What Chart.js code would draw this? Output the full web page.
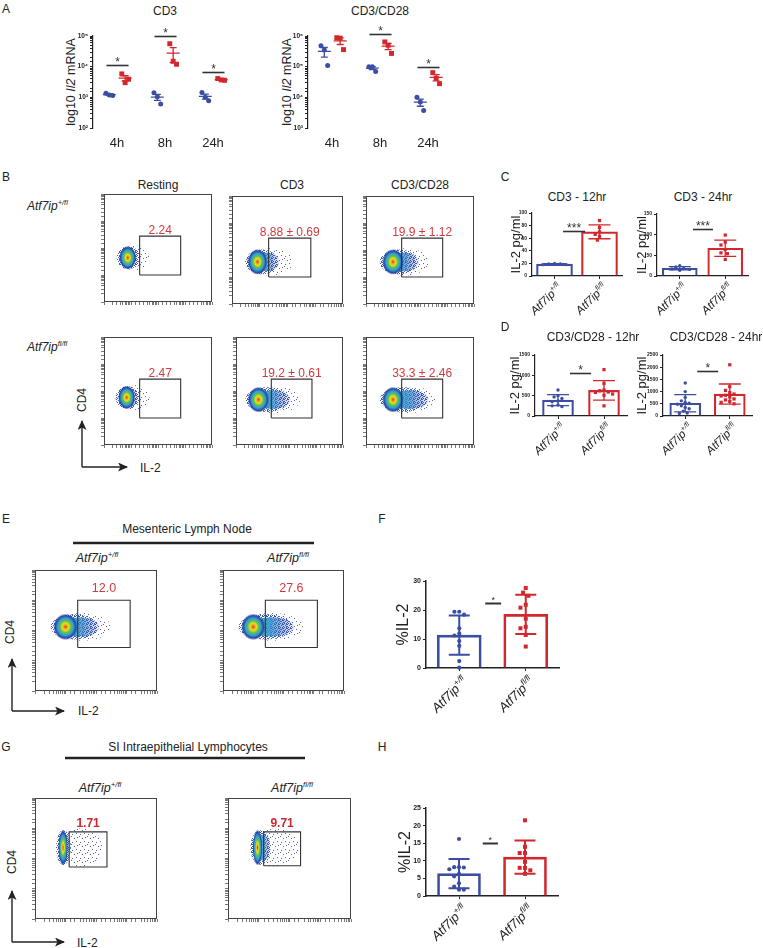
<!DOCTYPE html>
<html><head><meta charset="utf-8">
<script src="https://cdn.jsdelivr.net/npm/chart.js@4.4.1/dist/chart.umd.min.js"></script>
<style>
html,body{margin:0;padding:0;background:#fff;}
#fig{position:relative;width:763px;height:948px;overflow:hidden;background:#fff;font-family:'Liberation Sans',Arial,Helvetica,sans-serif;color:#222;}
.t{position:absolute;white-space:nowrap;line-height:1;}
canvas{position:absolute;}
sup{font-size:62%;vertical-align:super;line-height:0;}
</style></head><body><div id="fig"></div>
<script>
// ================= DATA =================
const timeLabels = ['4h', '8h', '24h'];
// Panel A: Il2 mRNA, one inner list per time point
const cd3CtrlMRNA = [[1350, 1200, 1150], [1400, 1050, 610], [1450, 1000, 780]];
const cd3KoMRNA = [[5800, 3000, 3900], [56000, 15000, 12000], [4100, 3700, 3600]];
const cd28CtrlMRNA = [[480000, 350000, 110000], [100000, 100000, 70000], [10000, 7100, 3700]];
const cd28KoMRNA = [[880000, 850000, 360000], [640000, 500000, 270000], [64000, 42000, 28000]];
const cd3Sig = [[0, 11500], [1, 100000], [2, 6500]];     // [time index, bar height]
const cd28Sig = [[1, 1130000], [2, 100000]];
// genotype tick labels
const genotypes = [['Atf7ip', '+/fl'], ['Atf7ip', 'fl/fl']];
// Panel C / D: IL-2 pg/ml
const cd3h12Ctrl = [19, 18, 19, 20, 18];
const cd3h12Ko = [88, 77, 70, 63, 57, 66];
const cd3h24Ctrl = [25, 22, 18, 16, 17, 14];
const cd3h24Ko = [99, 82, 75, 64, 56, 54, 40];
const cd28h12Ctrl = [640, 500, 470, 430, 370, 350, 270, 250, 230];
const cd28h12Ko = [1140, 800, 640, 620, 590, 580, 540, 510, 250];
const cd28h24Ctrl = [1350, 1000, 760, 620, 560, 520, 480, 420, 350, 300, 200, 120, 100];
const cd28h24Ko = [2100, 1200, 1050, 960, 900, 850, 820, 780, 700, 660, 600, 560, 500];
// Panel F / H: %IL-2
const mlnCtrl = [19.4, 19.4, 18.4, 13.7, 11.9, 11.2, 9.3, 7.6, 2.4, 0.1];
const mlnKo = [27.6, 26, 24.9, 21.8, 20.8, 17, 14.2, 13.7, 11.4, 7.4];
const ielCtrl = [16.2, 8.2, 8.2, 8.1, 7.6, 6.3, 5.6, 3.6, 2.7, 1.8, 1.8];
const ielKo = [21.5, 14, 12.2, 12.2, 9.7, 8, 8, 7.3, 6.3];
// Flow plots: populations [centre x, centre y, half width, half height, dense edge x, sparse tail x] (% of axis)
const restWtCloud = [22, 41, 8, 11, 28, 42];
const cd3WtCloud = [23, 39, 9, 12, 40, 55];
const cd28WtCloud = [25, 39, 10, 12, 46, 58];
const restKoCloud = [21, 44, 8, 11, 29, 42];
const cd3KoCloud = [21, 42, 10, 12, 48, 60];
const cd28KoCloud = [25, 42, 10, 12, 55, 64];
const mlnWtCloud = [25, 53, 10, 11, 50, 62];
const mlnKoCloud = [25, 53, 10, 11, 56, 66];
const ielWtCloud = [23, 59, 4, 15, 27, 55];
const ielKoCloud = [24, 59, 4, 15, 33, 58];
// gates [x1, x2, y1, y2] (% of axis) and gate frequencies
const stimGate = [33, 71, 25, 61];
const mlnGate = [35, 78, 36, 75];
const ielWtGate = [28, 59, 43, 72];
const ielKoGate = [29, 59, 44, 72];
const stimFreqWt = ['2.24', '8.88 ± 0.69', '19.9 ± 1.12'];
const stimFreqKo = ['2.47', '19.2 ± 0.61', '33.3 ± 2.46'];
const mlnFreq = ['12.0', '27.6'];
const ielFreq = ['1.71', '9.71'];

// ================= HELPERS =================
const BLUE = '#3b4ea2', RED = '#d2272d', INK = '#222';
const FONT = "'Liberation Sans', Arial, Helvetica, sans-serif";
Chart.defaults.font.family = FONT;
Chart.defaults.color = INK;
const fig = document.getElementById('fig');
const mean = a => a.reduce((s, v) => s + v, 0) / a.length;
const sd = a => { const m = mean(a); return Math.sqrt(a.reduce((s, v) => s + (v - m) * (v - m), 0) / (a.length - 1)); };

function txt(html, x, y, size, opt = {}) {
  const d = document.createElement('div');
  d.className = 't'; d.innerHTML = html;
  d.style.left = x + 'px'; d.style.top = y + 'px'; d.style.fontSize = size + 'px';
  const a = opt.a || 'c';
  let tf = a === 'c' ? 'translate(-50%,-50%)' : 'translate(0,-50%)';
  if (opt.rot) tf += ' rotate(-90deg)';
  d.style.transform = tf;
  if (opt.bold) d.style.fontWeight = 'bold';
  if (opt.color) d.style.color = opt.color;
  fig.appendChild(d);
}
function canvasFor(area, pad) {
  const [L, T, R, B] = area;
  const c = document.createElement('canvas');
  const w = R - L + pad.l + pad.r, h = B - T + pad.t + pad.b;
  c.width = w; c.height = h;
  c.style.left = (L - pad.l) + 'px'; c.style.top = (T - pad.t) + 'px';
  c.style.width = w + 'px'; c.style.height = h + 'px';
  fig.appendChild(c);
  return c;
}
function baseOptions(pad) {
  return {
    responsive: false, animation: false, devicePixelRatio: 1,
    layout: { padding: { left: 0, top: pad.t, right: pad.r, bottom: 0 } },
    plugins: { legend: { display: false }, tooltip: { enabled: false } }
  };
}

// ---------- stipple textures (fixed style patterns for flow events) ----------
function stipple(dots, size, color) {
  const p = document.createElement('canvas');
  p.width = p.height = size;
  const c = p.getContext('2d');
  c.fillStyle = color;
  dots.forEach(([x, y]) => c.fillRect(x, y, 1, 1));
  return c.createPattern ? p : p;
}
const sparseTex = stipple([[0, 0], [3, 2], [5, 5], [1, 6], [6, 1]], 8, 'rgba(50,75,175,0.85)');
const denseTex = stipple([[0, 0], [2, 1], [1, 3], [3, 3], [0, 2], [3, 0]], 4, 'rgba(45,70,170,0.9)');

// ---------- plugins ----------
const sigPlugin = {
  id: 'sig',
  afterDraw(chart, args, o) {
    if (!o || !o.items) return;
    const { ctx, scales: { x, y } } = chart;
    ctx.save();
    o.items.forEach(it => {
      const x1 = x.getPixelForValue(it.x1), x2 = x.getPixelForValue(it.x2), yy = Math.round(y.getPixelForValue(it.y)) + 0.5;
      ctx.strokeStyle = '#333'; ctx.lineWidth = o.lw;
      ctx.beginPath(); ctx.moveTo(x1, yy); ctx.lineTo(x2, yy); ctx.stroke();
      ctx.fillStyle = '#333'; ctx.font = `${o.size}px ${FONT}`;
      ctx.textAlign = 'center'; ctx.textBaseline = 'alphabetic';
      ctx.fillText(it.text, (x1 + x2) / 2, yy + o.dy);
    });
    ctx.restore();
  }
};
const meanSemPlugin = {
  id: 'meanSem',
  afterDatasetsDraw(chart) {
    const { ctx, scales: { x, y } } = chart;
    ctx.save();
    chart.data.datasets.forEach(ds => {
      if (!ds.groups) return;
      ds.groups.forEach((vals, g) => {
        const m = mean(vals), se = sd(vals) / Math.sqrt(vals.length);
        const cx = x.getPixelForValue(g + 1 + ds.offset);
        const ym = y.getPixelForValue(m), yt = y.getPixelForValue(m + se), yb = y.getPixelForValue(m - se);
        ctx.strokeStyle = ds.borderColor; ctx.lineWidth = 1.3;
        ctx.beginPath();
        ctx.moveTo(cx - 6.5, ym); ctx.lineTo(cx + 6.5, ym);
        ctx.moveTo(cx, yt); ctx.lineTo(cx, yb);
        ctx.moveTo(cx - 3.5, yt); ctx.lineTo(cx + 3.5, yt);
        ctx.moveTo(cx - 3.5, yb); ctx.lineTo(cx + 3.5, yb);
        ctx.stroke();
      });
    });
    ctx.restore();
  }
};
const sdPlugin = {
  id: 'sdBars',
  afterDatasetDraw(chart, args, o) {
    const ds = chart.data.datasets[args.index];
    if (!ds.groups) return;
    const { ctx, scales: { x, y } } = chart;
    ctx.save();
    ds.groups.forEach((vals, g) => {
      const m = mean(vals), s = sd(vals);
      const px = x.getPixelForValue(g), yt = y.getPixelForValue(m + s), yb = y.getPixelForValue(Math.max(m - s, 0));
      ctx.strokeStyle = ds.borderColor[g]; ctx.lineWidth = o.lw;
      ctx.beginPath();
      ctx.moveTo(px, yt); ctx.lineTo(px, yb);
      ctx.moveTo(px - o.cap, yt); ctx.lineTo(px + o.cap, yt);
      ctx.moveTo(px - o.cap, yb); ctx.lineTo(px + o.cap, yb);
      ctx.stroke();
    });
    ctx.restore();
  }
};
const genoPlugin = {
  id: 'geno',
  afterDraw(chart, args, o) {
    if (!o || !o.labels) return;
    const { ctx, chartArea, scales: { x } } = chart;
    o.labels.forEach((lab, i) => {
      const px = x.getPixelForValue(i) + o.dx, py = chartArea.bottom + o.dy;
      ctx.save(); ctx.translate(px, py); ctx.rotate(-Math.PI / 4);
      const f1 = `italic ${o.size}px ${FONT}`, f2 = `italic ${(o.size * 0.62).toFixed(1)}px ${FONT}`;
      ctx.font = f2; const ws = ctx.measureText(lab[1]).width;
      ctx.font = f1; const wm = ctx.measureText(lab[0]).width;
      ctx.fillStyle = INK; ctx.textAlign = 'left'; ctx.textBaseline = 'alphabetic';
      ctx.fillText(lab[0], -(wm + ws), 0);
      ctx.font = f2; ctx.fillText(lab[1], -ws, -o.size * 0.42);
      ctx.restore();
    });
  }
};
function drawCloud(ctx, xs, ys, cl) {
  const [cx, cy, rx, ry, mid, tail] = cl;
  const X = v => xs.getPixelForValue(v), Y = v => ys.getPixelForValue(v);
  const pcx = X(cx), pcy = Y(cy), prx = X(cx + rx) - pcx, pry = pcy - Y(cy + ry);
  const pmid = X(mid), ptail = X(tail);
  ctx.save();
  const l0 = pcx - prx * 1.05;
  // sparse events
  ctx.fillStyle = ctx.createPattern(sparseTex, 'repeat');
  ctx.beginPath(); ctx.ellipse((l0 + ptail) / 2, pcy, (ptail - l0) / 2, pry * 1.05, 0, 0, Math.PI * 2); ctx.fill();
  // denser events
  ctx.fillStyle = ctx.createPattern(denseTex, 'repeat');
  const dr = Math.max(pmid, pcx + prx * 1.2);
  ctx.beginPath(); ctx.ellipse((l0 + dr) / 2, pcy, (dr - l0) / 2 + 2, pry * 0.95, 0, 0, Math.PI * 2); ctx.fill();
  if (pmid > pcx + prx * 0.5) {
    const g = ctx.createLinearGradient(pcx, 0, pmid, 0);
    g.addColorStop(0, 'rgba(80,180,110,0.95)'); g.addColorStop(0.4, 'rgba(45,150,205,0.85)'); g.addColorStop(1, 'rgba(45,70,170,0.15)');
    ctx.fillStyle = g;
    ctx.beginPath(); ctx.ellipse((pcx + pmid) / 2, pcy, (pmid - pcx) / 2 + prx * 0.3, pry * 0.72, 0, 0, Math.PI * 2); ctx.fill();
  }
  ctx.translate(pcx, pcy); ctx.scale(prx / pry, 1);
  const rg = ctx.createRadialGradient(0, 0, 0, 0, 0, pry);
  rg.addColorStop(0, '#e4261d'); rg.addColorStop(0.13, '#f29b22'); rg.addColorStop(0.28, '#dfe028');
  rg.addColorStop(0.45, '#62bf4b'); rg.addColorStop(0.64, '#2ea2d4'); rg.addColorStop(0.84, '#2b45a8'); rg.addColorStop(1, 'rgba(43,69,168,0)');
  ctx.fillStyle = rg; ctx.beginPath(); ctx.arc(0, 0, pry, 0, Math.PI * 2); ctx.fill();
  ctx.restore();
}
const flowPlugin = {
  id: 'flow',
  beforeDatasetsDraw(chart, args, o) {
    const { ctx, chartArea: a, scales: { x, y } } = chart;
    ctx.save(); ctx.beginPath(); ctx.rect(a.left, a.top, a.right - a.left, a.bottom - a.top); ctx.clip();
    drawCloud(ctx, x, y, o.cloud);
    ctx.restore();
  },
  afterDraw(chart, args, o) {
    const { ctx, chartArea: a, scales: { x, y } } = chart;
    ctx.save();
    ctx.strokeStyle = '#444'; ctx.lineWidth = 1;
    ctx.strokeRect(Math.round(a.left) + 0.5, Math.round(a.top) + 0.5, Math.round(a.right - a.left) - 1, Math.round(a.bottom - a.top) - 1);
    ctx.fillStyle = o.color; ctx.font = `${o.bold ? 'bold ' : ''}${o.size}px ${FONT}`;
    ctx.textAlign = 'center'; ctx.textBaseline = 'alphabetic';
    const g = o.gate;
    ctx.fillText(o.label, x.getPixelForValue((g[0] + g[1]) / 2), y.getPixelForValue(g[3]) - o.gap);
    ctx.restore();
  }
};

// ---------- chart factories ----------
const supDigits = { 2: '²', 3: '³', 4: '⁴', 5: '⁵', 6: '⁶' };
function dotPlot(area, ctrl, ko, sig, yMin, yMax) {
  const pad = { l: 20, t: 22, r: 8, b: 28 };
  const c = canvasFor(area, pad);
  const mk = (groups, off, color, style, r) => ({
    type: 'scatter',
    data: groups.flatMap((vals, g) => vals.map((v, i) => ({ x: g + 1 + off + (i - 1) * 0.07, y: v }))),
    groups, offset: off, borderColor: color, backgroundColor: color, pointStyle: style,
    pointRadius: r, pointBorderWidth: 0, clip: false
  });
  const opts = baseOptions(pad);
  opts.plugins.sig = { items: sig.map(([g, v]) => ({ x1: g + 1 - 0.22, x2: g + 1 + 0.24, y: v, text: '*' })), lw: 1.6, size: 12, dy: 0 };
  opts.scales = {
    x: {
      type: 'linear', min: 0.5, max: 3.5, offset: false,
      afterBuildTicks: s => { s.ticks = [1, 2, 3].map(v => ({ value: v })); },
      ticks: { callback: v => timeLabels[v - 1], font: { size: 13 }, padding: 8, color: INK, autoSkip: false, maxRotation: 0 },
      grid: { display: false, drawTicks: false }, border: { display: false },
      afterFit: s => { s.height = pad.b; }
    },
    y: {
      type: 'logarithmic', min: yMin, max: yMax,
      ticks: {
        autoSkip: false, padding: 2, color: INK, font: { size: 6.5, weight: 'bold' },
        callback: v => { const e = Math.log10(v); return Math.abs(e - Math.round(e)) < 1e-6 ? '10' + supDigits[Math.round(e)] : ''; }
      },
      grid: { display: true, drawOnChartArea: false, tickLength: 3, color: INK },
      border: { display: true, color: INK, width: 1.2 },
      afterFit: s => { s.width = pad.l; }
    }
  };
  new Chart(c, {
    type: 'scatter',
    data: { datasets: [mk(ctrl, -0.16, BLUE, 'circle', 2.5), mk(ko, 0.17, RED, 'rect', 3.5)] },
    options: opts,
    plugins: [meanSemPlugin, sigPlugin]
  });
}

function swarm(vals, center, pxX, pxY, r) {
  const placed = [], out = [];
  const order = vals.map((v, i) => i).sort((a, b) => vals[b] - vals[a]);
  const cands = [0];
  for (let s = 1; s < 12; s++) cands.push(-s * r * 1.15, s * r * 1.15);
  order.forEach(i => {
    const py = vals[i] * pxY;
    let off = 0;
    for (const c of cands) { if (placed.every(p => Math.hypot(p.x - c, p.y - py) >= 2 * r + 0.6)) { off = c; break; } }
    placed.push({ x: off, y: py });
    out[i] = { x: center + off / pxX, y: vals[i] };
  });
  return out;
}
function barPlot(area, ctrl, ko, o) {
  const pad = { l: o.padL, t: 12, r: 6, b: 60 };
  const c = canvasFor(area, pad);
  const w = area[2] - area[0], h = area[3] - area[1];
  const pxX = w / 2, pxY = h / o.yMax;
  const opts = baseOptions(pad);
  opts.plugins.sdBars = { lw: o.lw, cap: o.cap };
  opts.plugins.sig = { items: [{ x1: o.sig[0], x2: o.sig[1], y: o.sig[2], text: o.sig[3] }], lw: o.sigLw, size: o.sigSize, dy: o.sigDy };
  opts.plugins.geno = { labels: genotypes, size: o.gSize, dx: o.gDx, dy: o.gDy };
  opts.scales = {
    x: {
      type: 'linear', min: -0.5, max: 1.5, offset: false,
      afterBuildTicks: s => { s.ticks = [{ value: 0 }, { value: 1 }]; },
      ticks: { display: false },
      grid: { display: true, drawOnChartArea: false, drawTicks: true, tickLength: 3, color: INK, offset: false },
      border: { display: true, color: INK, width: o.axLw },
      afterFit: s => { s.height = pad.b; }
    },
    y: {
      type: 'linear', min: 0, max: o.yMax,
      ticks: { stepSize: o.step, autoSkip: false, padding: 2, color: INK, font: { size: o.tSize, weight: 'bold' }, callback: v => String(v) },
      grid: { display: true, drawOnChartArea: false, tickLength: 3, color: INK },
      border: { display: true, color: INK, width: o.axLw },
      title: { display: true, text: o.title, font: { size: o.titleSize, lineHeight: 1 }, padding: { top: 2, bottom: 0 }, color: INK },
      afterFit: s => { s.width = pad.l; }
    }
  };
  new Chart(c, {
    type: 'bar',
    data: {
      datasets: [
        { type: 'bar', data: [{ x: 0, y: mean(ctrl) }, { x: 1, y: mean(ko) }], groups: [ctrl, ko],
          backgroundColor: 'rgba(255,255,255,0)', borderColor: [BLUE, RED], borderWidth: o.bw, barThickness: o.barPx, order: 3 },
        { type: 'scatter', data: swarm(ctrl, 0, pxX, pxY, o.r), backgroundColor: BLUE, borderColor: BLUE,
          pointRadius: o.r, pointBorderWidth: 0, pointStyle: 'circle', order: 1, clip: false },
        { type: 'scatter', data: swarm(ko, 1, pxX, pxY, o.r * 1.1), backgroundColor: RED, borderColor: RED,
          pointRadius: o.r * 1.35, pointBorderWidth: 0, pointStyle: 'rect', order: 1, clip: false }
      ]
    },
    options: opts,
    plugins: [sdPlugin, sigPlugin, genoPlugin]
  });
}

function flowPlot(area, cloud, gate, label, st) {
  const pad = { l: 4, t: 2, r: 2, b: 4 };
  const c = canvasFor(area, pad);
  const opts = baseOptions(pad);
  opts.plugins.flow = { cloud, gate, label, color: st.color, size: st.size, bold: st.bold, gap: st.gap };
  const logAxis = (pos) => ({
    type: 'logarithmic', position: pos, min: 10, max: 100000,
    ticks: { display: false, autoSkip: false },
    grid: { display: true, drawOnChartArea: false, drawTicks: true, tickLength: 3, color: '#555', lineWidth: 0.8 },
    border: { display: false },
    afterFit: s => { if (pos === 'left') s.width = pad.l; else s.height = pad.b; }
  });
  opts.scales = {
    x: { type: 'linear', min: 0, max: 100, display: false },
    y: { type: 'linear', min: 0, max: 100, display: false },
    xl: logAxis('bottom'), yl: logAxis('left')
  };
  const [x1, x2, y1, y2] = gate;
  new Chart(c, {
    type: 'scatter',
    data: {
      datasets: [{
        type: 'line', xAxisID: 'x', yAxisID: 'y',
        data: [{ x: x1, y: y1 }, { x: x2, y: y1 }, { x: x2, y: y2 }, { x: x1, y: y2 }, { x: x1, y: y1 }],
        borderColor: '#333', borderWidth: 1.1, pointRadius: 0, tension: 0, fill: false
      }]
    },
    options: opts,
    plugins: [flowPlugin]
  });
}

// ================= LAYOUT =================
fig.insertAdjacentHTML('beforeend', `<svg width="763" height="948" style="position:absolute;left:0;top:0" xmlns="http://www.w3.org/2000/svg">
<defs><marker id="ah" markerWidth="10" markerHeight="9" refX="9" refY="4.5" orient="auto" markerUnits="userSpaceOnUse"><path d="M0,0 L10,4.5 L0,9 L2.5,4.5 z" fill="#222"/></marker></defs>
<g stroke="#222" stroke-width="1.4" fill="none">
<path d="M82,467 V421" marker-end="url(#ah)"/><path d="M82,467 H127" marker-end="url(#ah)"/>
<path d="M12,711 V659" marker-end="url(#ah)"/><path d="M12,711 H64" marker-end="url(#ah)"/>
<path d="M12,942 V891" marker-end="url(#ah)"/><path d="M12,942 H64" marker-end="url(#ah)"/>
</g>
<line x1="73" y1="543" x2="314" y2="543" stroke="#222" stroke-width="2.5"/>
<line x1="65" y1="758" x2="305" y2="758" stroke="#222" stroke-width="2.5"/>
</svg>`);

const geno = i => `<i>${genotypes[i][0]}<sup>${genotypes[i][1]}</sup></i>`;

// Panel A
txt('A', 6, 9, 12);
txt('CD3', 165, 11, 12);
txt('CD3/CD28', 380, 11, 12);
txt('log10 <i>Il2</i> mRNA', 71, 82, 12.5, { rot: true });
txt('log10 <i>Il2</i> mRNA', 287, 82, 12.5, { rot: true });
dotPlot([93, 36, 237, 128], cd3CtrlMRNA, cd3KoMRNA, cd3Sig, 100, 100000);
dotPlot([308, 36, 452, 128], cd28CtrlMRNA, cd28KoMRNA, cd28Sig, 1000, 1000000);

// Panel B
txt('B', 6, 177, 12);
txt('Resting', 158, 185, 12);
txt('CD3', 292, 185, 12);
txt('CD3/CD28', 420, 185, 12);
txt(geno(0), 27, 206, 12, { a: 'l' });
txt(geno(1), 27, 347, 12, { a: 'l' });
txt('CD4', 82, 400, 12, { rot: true });
txt('IL-2', 140, 468, 12, { a: 'l' });
const bStyle = { color: '#d23a3f', size: 12, bold: false, gap: 2 };
flowPlot([104, 194, 212, 302], restWtCloud, stimGate, stimFreqWt[0], bStyle);
flowPlot([232, 196, 343, 304], cd3WtCloud, stimGate, stimFreqWt[1], bStyle);
flowPlot([366, 196, 474, 304], cd28WtCloud, stimGate, stimFreqWt[2], bStyle);
flowPlot([104, 337, 212, 445], restKoCloud, stimGate, stimFreqKo[0], bStyle);
flowPlot([236, 337, 343, 445], cd3KoCloud, stimGate, stimFreqKo[1], bStyle);
flowPlot([366, 337, 474, 445], cd28KoCloud, stimGate, stimFreqKo[2], bStyle);

// Panel C
txt('C', 505, 177, 12);
txt('CD3 - 12hr', 577, 197, 12);
txt('CD3 - 24hr', 703, 197, 12);
const cdStyle = { title: 'IL-2 pg/ml', titleSize: 13, tSize: 5, bw: 1.5, lw: 1.3, cap: 11, r: 1.7, axLw: 1.2,
  sigLw: 1.6, sigSize: 12, sigDy: 0, gSize: 11.5, gDx: 8, gDy: 12 };
barPlot([532, 213, 622, 276], cd3h12Ctrl, cd3h12Ko, { ...cdStyle, padL: 24, yMax: 100, step: 20, barPx: 36, sig: [0.19, 0.68, 71, '***'] });
barPlot([657, 214, 748, 276], cd3h24Ctrl, cd3h24Ko, { ...cdStyle, padL: 23, yMax: 150, step: 50, barPx: 35, sig: [0.29, 0.73, 114, '***'] });

// Panel D
txt('D', 505, 327, 12);
txt('CD3/CD28 - 12hr', 593, 337, 12);
txt('CD3/CD28 - 24hr', 716, 337, 12);
barPlot([535, 355, 627, 416], cd28h12Ctrl, cd28h12Ko, { ...cdStyle, padL: 28, yMax: 1500, step: 500, barPx: 31, sig: [0.26, 0.72, 1057, '*'] });
barPlot([663, 355, 752, 416], cd28h24Ctrl, cd28h24Ko, { ...cdStyle, padL: 29, yMax: 2500, step: 500, barPx: 31, sig: [0.27, 0.74, 1844, '*'] });

// Panel E
txt('E', 6, 519, 12);
txt('Mesenteric Lymph Node', 187, 529, 12);
txt(geno(0), 97, 558, 12.5);
txt(geno(1), 288, 558, 12.5);
txt('CD4', 10, 632, 12, { rot: true });
txt('IL-2', 78, 711, 12, { a: 'l' });
const eStyle = { color: '#d23a3f', size: 12.5, bold: false, gap: 8 };
flowPlot([35, 570, 157, 691], mlnWtCloud, mlnGate, mlnFreq[0], eStyle);
flowPlot([223, 570, 344, 691], mlnKoCloud, mlnGate, mlnFreq[1], eStyle);

// Panel F
txt('F', 382, 519, 12);
const fhStyle = { title: '%IL-2', titleSize: 16, tSize: 7, bw: 2, lw: 2, cap: 10.5, r: 2.1, axLw: 1.5,
  sigLw: 2, sigSize: 9, sigDy: -1, gSize: 13, gDx: 9, gDy: 14 };
barPlot([426, 581, 559, 668], mlnCtrl, mlnKo, { ...fhStyle, padL: 32, yMax: 30, step: 10, barPx: 44, sig: [0.39, 0.63, 22.4, '*'] });

// Panel G
txt('G', 6, 747, 12);
txt('SI Intraepithelial Lymphocytes', 188, 747, 12);
txt(geno(0), 100, 788, 12.5);
txt(geno(1), 292, 788, 12.5);
txt('CD4', 12, 862, 12, { rot: true });
txt('IL-2', 77, 943, 12, { a: 'l' });
const gStyle = { color: '#c8282d', size: 12, bold: true, gap: 5 };
flowPlot([35, 798, 157, 919], ielWtCloud, ielWtGate, ielFreq[0], gStyle);
flowPlot([228, 798, 351, 919], ielKoCloud, ielKoGate, ielFreq[1], gStyle);

// Panel H
txt('H', 382, 747, 12);
barPlot([426, 808, 558, 896], ielCtrl, ielKo, { ...fhStyle, padL: 30, yMax: 25, step: 5, barPx: 43, sig: [0.36, 0.59, 15, '*'] });
</script></body></html>
